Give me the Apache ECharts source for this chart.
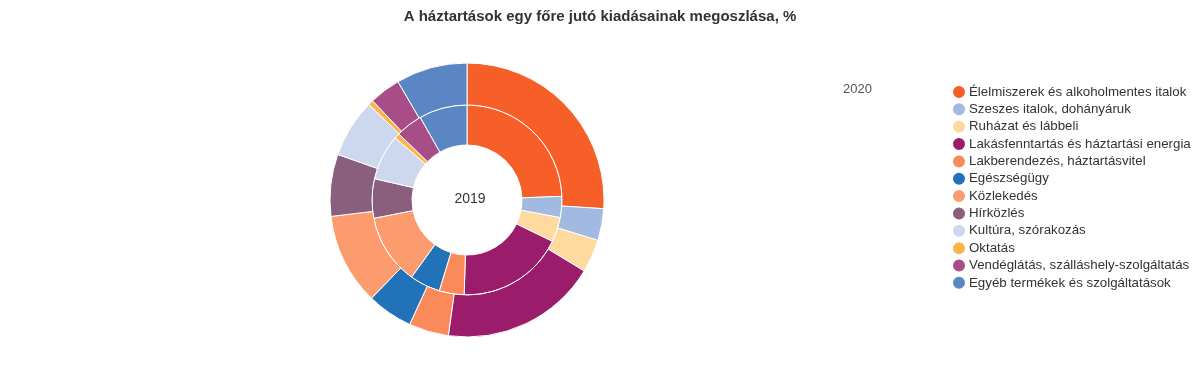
<!DOCTYPE html>
<html>
<head>
<meta charset="utf-8">
<script src="https://cdn.jsdelivr.net/npm/echarts@6/dist/echarts.min.js"></script>
<style>
html,body{margin:0;padding:0;background:#fff;}
#chart{width:1200px;height:375px;}
</style>
</head>
<body>
<div id="chart"></div>
<script>
const categories = [
  "Élelmiszerek és alkoholmentes italok",
  "Szeszes italok, dohányáruk",
  "Ruházat és lábbeli",
  "Lakásfenntartás és háztartási energia",
  "Lakberendezés, háztartásvitel",
  "Egészségügy",
  "Közlekedés",
  "Hírközlés",
  "Kultúra, szórakozás",
  "Oktatás",
  "Vendéglátás, szálláshely-szolgáltatás",
  "Egyéb termékek és szolgáltatások"
];
const colors = ["#f65f28","#a2b9e1","#fed9a0","#9b1c6b","#fa8a5a","#2272b9","#fb9b6e","#8a5f7e","#cdd7ee","#fdb54a","#a84d88","#5a86c4"];
const values2019 = [24.4, 3.6, 4.2, 18.3, 4.25, 5.2, 12.0, 6.7, 7.75, 0.9, 4.55, 8.2];
const values2020 = [26.0, 3.75, 3.9, 18.5, 4.7, 5.4, 10.8, 7.3, 6.9, 0.6, 3.7, 8.4];
const yearLabels = ["2019", "2020"];

const chart = echarts.init(document.getElementById('chart'), null, {renderer: 'canvas'});
const font = 'Arial, "Liberation Sans", sans-serif';
function mk(vals){ return categories.map((c,i)=>({name:c, value:vals[i]})); }
chart.setOption({
  animation: false,
  color: colors,
  title: {
    text: "A háztartások egy főre jutó kiadásainak megoszlása, %",
    left: 'center', top: 4,
    textStyle: {fontFamily: font, fontSize: 15, fontWeight: 'bold', color: '#333'}
  },
  legend: {
    orient: 'vertical', left: 946, top: 79,
    icon: 'circle', itemWidth: 14, itemHeight: 14, itemGap: 1.35,
    textStyle: {fontFamily: font, fontSize: 13.3, color: '#333', padding: [0,0,0,-2]},
    data: categories
  },
  graphic: [
    {type: 'text', x: 843, y: 83, style: {text: yearLabels[1], font: '13px ' + font, fill: '#555'}},
    {type: 'text', x: 470, y: 199, style: {text: yearLabels[0], font: '14px ' + font, fill: '#333', align: 'center', verticalAlign: 'middle'}}
  ],
  series: [
    {
      name: yearLabels[0], type: 'pie', center: [467, 200], radius: [55, 95],
      startAngle: 90, clockwise: true, label: {show: false}, labelLine: {show: false},
      itemStyle: {borderColor: '#fff', borderWidth: 1},
      emphasis: {disabled: true},
      data: mk(values2019)
    },
    {
      name: yearLabels[1], type: 'pie', center: [467, 200], radius: [95, 137],
      startAngle: 90, clockwise: true, label: {show: false}, labelLine: {show: false},
      itemStyle: {borderColor: '#fff', borderWidth: 1},
      emphasis: {disabled: true},
      data: mk(values2020)
    }
  ]
});
</script>
</body>
</html>
